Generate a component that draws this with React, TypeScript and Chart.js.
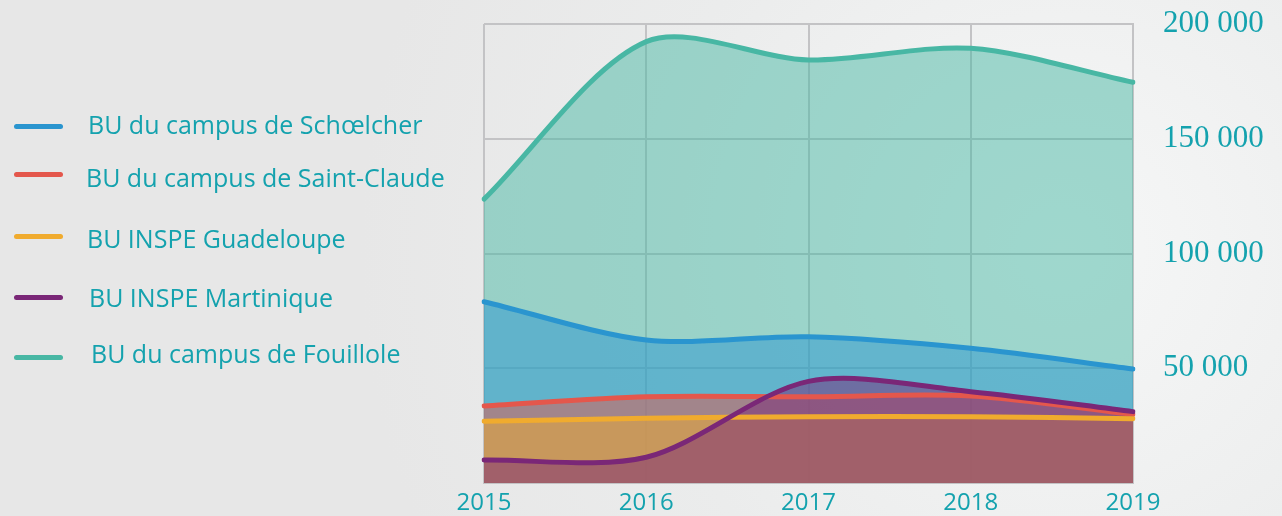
import React, { useEffect, useRef } from "react";
import { Chart, registerables } from "chart.js";

Chart.register(...registerables);

const years = ["2015", "2016", "2017", "2018", "2019"];
const schoelcher = [79000, 62300, 63700, 58700, 49700];
const saintClaude = [33600, 37600, 37600, 37900, 29900];
const inspeGuadeloupe = [26900, 28200, 28900, 28900, 28000];
const inspeMartinique = [10000, 11200, 44300, 39800, 31100];
const fouillole = [123700, 192300, 184300, 189400, 174600];
const yTicks = [50000, 100000, 150000, 200000];

const seriesNames = [
  "BU du campus de Schœlcher",
  "BU du campus de Saint-Claude",
  "BU INSPE Guadeloupe",
  "BU INSPE Martinique",
  "BU du campus de Fouillole",
];
const seriesColors = ["#2a95cf", "#e4574c", "#f0ab2e", "#7a2777", "#48b7a4"];
const seriesData = [schoelcher, saintClaude, inspeGuadeloupe, inspeMartinique, fouillole];
// drawing order (lower = on top)
const seriesOrder = [3, 2, 1, 0, 4];

const TEAL_TEXT = "#14a2ae";

function hexA(hex: string, a: number) {
  const r = parseInt(hex.slice(1, 3), 16);
  const g = parseInt(hex.slice(3, 5), 16);
  const b = parseInt(hex.slice(5, 7), 16);
  return `rgba(${r},${g},${b},${a})`;
}

const legendLayout = [
  { lineY: 126, textX: 88, baseline: 134 },
  { lineY: 174, textX: 86, baseline: 187 },
  { lineY: 236, textX: 87, baseline: 248 },
  { lineY: 297, textX: 89, baseline: 307 },
  { lineY: 357, textX: 91, baseline: 363 },
];

export default function App() {
  const canvasRef = useRef<HTMLCanvasElement | null>(null);

  useEffect(() => {
    const ctx = canvasRef.current!;
    const chart = new Chart(ctx, {
      type: "line",
      data: {
        labels: years,
        datasets: seriesNames.map((name, i) => ({
          label: name,
          data: seriesData[i],
          borderColor: seriesColors[i],
          backgroundColor: hexA(seriesColors[i], 0.5),
          borderWidth: 5,
          borderCapStyle: "round" as const,
          borderJoinStyle: "round" as const,
          fill: "origin",
          tension: 0.3,
          pointRadius: 0,
          pointHoverRadius: 0,
          order: seriesOrder[i],
        })),
      },
      options: {
        animation: false,
        responsive: false,
        maintainAspectRatio: false,
        layout: { padding: { left: 484, top: 24, right: 0, bottom: 0 } },
        plugins: {
          legend: { display: false },
          tooltip: { enabled: false },
          filler: { drawTime: "beforeDatasetsDraw" },
        } as any,
        scales: {
          x: {
            type: "category",
            offset: false,
            grid: { color: "#c3c3c5", lineWidth: 2, drawTicks: false },
            border: { color: "#c3c3c5", width: 2 },
            ticks: {
              color: TEAL_TEXT,
              font: { family: "'Open Sans', sans-serif", size: 24 },
              padding: 6,
              maxRotation: 0,
            },
            afterFit: (scale: any) => {
              scale.height = 33;
              scale.paddingLeft = 0;
              scale.paddingRight = 0;
            },
          },
          y: {
            position: "right",
            min: 0,
            max: 200000,
            afterBuildTicks: (scale: any) => {
              scale.ticks = [0, ...yTicks].map((v) => ({ value: v }));
            },
            grid: { color: "#c3c3c5", lineWidth: 2, drawTicks: false },
            border: { color: "#c3c3c5", width: 2 },
            ticks: {
              color: TEAL_TEXT,
              font: { family: "'Liberation Serif', serif", size: 31 },
              padding: 30,
              callback: (v: any) =>
                Number(v) === 0 ? "" : Number(v).toLocaleString("en-US").replace(/,/g, " "),
            },
            afterFit: (scale: any) => {
              scale.width = 149;
              scale.paddingTop = 0;
              scale.paddingBottom = 0;
            },
          },
        },
      } as any,
    });
    return () => chart.destroy();
  }, []);

  return (
    <div
      style={{
        position: "fixed",
        left: 0,
        top: 0,
        width: 1282,
        height: 516,
        overflow: "hidden",
        background:
          "radial-gradient(circle at 1060px 250px, #f6f7f7 0px, #f2f3f3 160px, #ebecec 420px, #e7e7e7 700px)",
        fontFamily: "'Open Sans', sans-serif",
      }}
    >
      {seriesNames.map((name, i) => (
        <React.Fragment key={name}>
          <div
            style={{
              position: "absolute",
              left: 14,
              top: legendLayout[i].lineY - 2.5,
              width: 49,
              height: 5,
              borderRadius: 3,
              background: seriesColors[i],
            }}
          />
          <div
            style={{
              position: "absolute",
              left: legendLayout[i].textX,
              top: legendLayout[i].baseline - 26.7,
              fontSize: 25,
              lineHeight: "34px",
              color: TEAL_TEXT,
              whiteSpace: "nowrap",
            }}
          >
            {name}
          </div>
        </React.Fragment>
      ))}
      <canvas
        ref={canvasRef}
        width={1282}
        height={516}
        style={{ position: "absolute", left: 0, top: 0, display: "block" }}
      />
    </div>
  );
}
